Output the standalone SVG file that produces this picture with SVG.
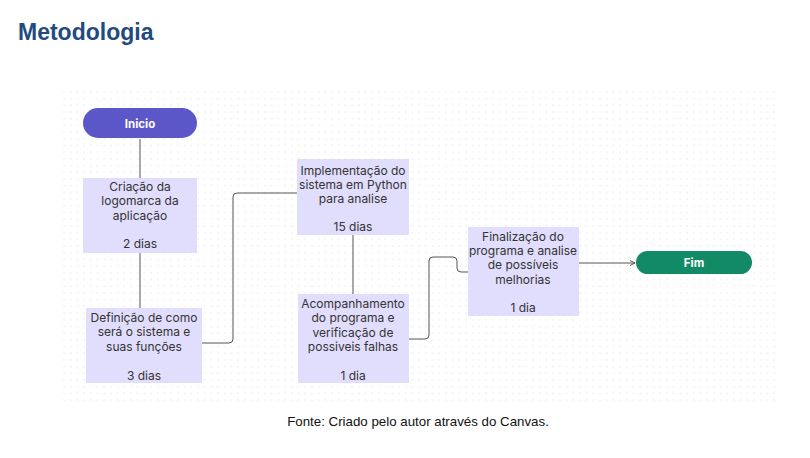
<svg xmlns="http://www.w3.org/2000/svg" width="810" height="458" viewBox="0 0 810 458">
<defs>
<pattern id="dots" x="62" y="90" width="6.7" height="6.7" patternUnits="userSpaceOnUse">
<circle cx="2" cy="2" r="0.7" fill="#e2e2e2"/>
</pattern>
<marker id="arr" markerWidth="6" markerHeight="6" refX="5" refY="3" orient="auto" markerUnits="userSpaceOnUse">
<path d="M0,0.5 L5,3 L0,5.5" fill="none" stroke="#555" stroke-width="1"/>
</marker>
<style>
.box{fill:#e1ddfc}
.t{font-family:Inter,"Noto Sans",sans-serif;font-size:12px;fill:#333;text-anchor:middle}
.pt{font-family:Inter,"Noto Sans",sans-serif;font-size:11.5px;font-weight:700;fill:#fff;text-anchor:middle}
.c{fill:none;stroke:#555;stroke-width:1}
</style>
</defs>
<rect width="810" height="458" fill="#fff"/>
<rect x="62" y="90" width="713" height="313" fill="url(#dots)"/>
<text x="18" y="40" font-family="Liberation Sans,Arial,sans-serif" font-size="23" font-weight="700" fill="#234a7d">Metodologia</text>
<g id="connectors">
<path class="c" d="M140,139 V178"/>
<path class="c" d="M140,253 V308"/>
<path class="c" d="M202,343 H229 Q233,343 233,339 V197 Q233,193 237,193 H297"/>
<path class="c" d="M353,235 V294"/>
<path class="c" d="M409,339 H425 Q429,339 429,335 V261 Q429,257 433,257 H453 Q457,257 457,261 V268 Q457,272 461,272 H468"/>
<path class="c" d="M579,263 H635" marker-end="url(#arr)"/>
</g>
<g id="inicio">
<rect x="83" y="108" width="114" height="30" rx="15" fill="#5c57c9"/>
<text class="pt" x="140" y="127.5">Inicio</text>
</g>
<g id="n1">
<rect class="box" x="83" y="178" width="114" height="75"/>
<text class="t"><tspan x="140" y="190.5">Criação da</tspan><tspan x="140" y="205">logomarca da</tspan><tspan x="140" y="219.5">aplicação</tspan><tspan x="140" y="247.5">2 dias</tspan></text>
</g>
<g id="n2">
<rect class="box" x="86" y="308" width="116" height="75"/>
<text class="t"><tspan x="144" y="321.5">Definição de como</tspan><tspan x="144" y="336">será o sistema e</tspan><tspan x="144" y="350.5">suas funções</tspan><tspan x="144" y="379.5">3 dias</tspan></text>
</g>
<g id="n3">
<rect class="box" x="297" y="159" width="112" height="76"/>
<text class="t"><tspan x="353" y="174.5">Implementação do</tspan><tspan x="353" y="189">sistema em Python</tspan><tspan x="353" y="203">para analise</tspan><tspan x="353" y="231">15 dias</tspan></text>
</g>
<g id="n4">
<rect class="box" x="298" y="294" width="111" height="89"/>
<text class="t"><tspan x="353" y="307.5">Acompanhamento</tspan><tspan x="353" y="322">do programa e</tspan><tspan x="353" y="336.5">verificação de</tspan><tspan x="353" y="351">possiveis falhas</tspan><tspan x="353" y="379.5">1 dia</tspan></text>
</g>
<g id="n5">
<rect class="box" x="468" y="227" width="111" height="89"/>
<text class="t"><tspan x="523" y="240.5">Finalização do</tspan><tspan x="523" y="255">programa e analise</tspan><tspan x="523" y="269">de possíveis</tspan><tspan x="523" y="283.5">melhorias</tspan><tspan x="523" y="311.5">1 dia</tspan></text>
</g>
<g id="fim">
<rect x="636" y="251" width="116" height="23" rx="11.5" fill="#138a66"/>
<text class="pt" x="694" y="266.5">Fim</text>
</g>
<text x="418" y="426" font-family="Liberation Sans,Arial,sans-serif" font-size="13.3" fill="#111" text-anchor="middle">Fonte: Criado pelo autor através do Canvas.</text>
</svg>
